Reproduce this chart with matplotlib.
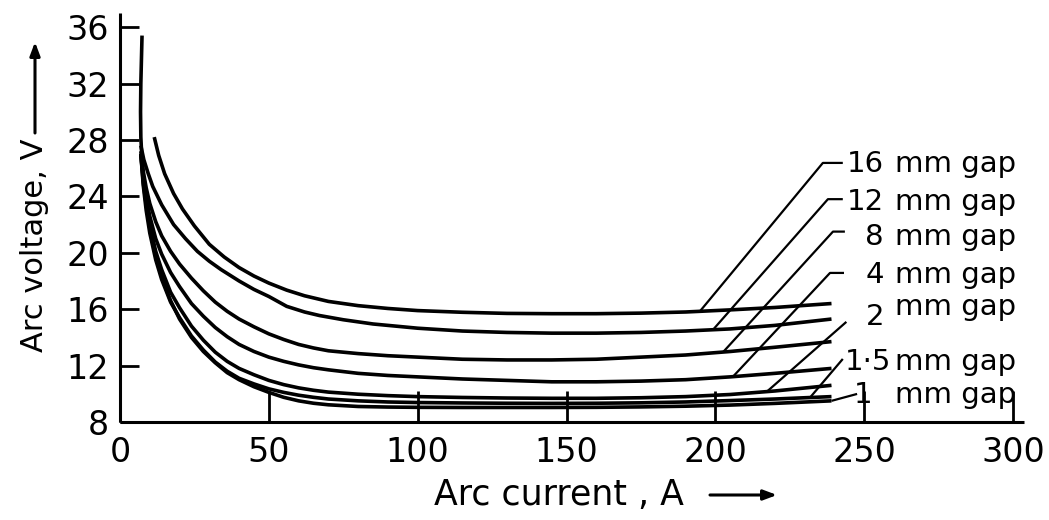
import numpy as np
import matplotlib
matplotlib.use("Agg")
import matplotlib.pyplot as plt

# ---------------- data ----------------
gaps = ["16", "12", "8", "4", "2", "1·5", "1"]

I_16 = [11.5, 13, 15, 18, 21, 25, 30, 35, 40, 45, 50, 56, 62, 70, 80, 90, 100, 115, 130,
        145, 160, 175, 190, 205, 220, 239]
V_16 = [28.2, 26.9, 25.6, 24.2, 23.1, 21.9, 20.6, 19.7, 18.95, 18.35, 17.85, 17.35, 16.95,
        16.55, 16.25, 16.05, 15.9, 15.78, 15.7, 15.68, 15.68, 15.72, 15.8, 15.95, 16.12, 16.4]

I_12 = [7, 8, 9.5, 11, 14, 18, 22, 26, 30, 34, 40, 45, 50, 56, 62, 67, 75, 85, 100, 115,
        130, 145, 160, 175, 190, 205, 220, 239]
V_12 = [27.6, 26.6, 25.6, 24.7, 23.4, 22.0, 21.0, 20.1, 19.4, 18.8, 18.0, 17.4, 16.9, 16.2,
        15.8, 15.55, 15.25, 14.95, 14.65, 14.45, 14.35, 14.3, 14.3, 14.35, 14.45, 14.6, 14.85, 15.3]

I_lo = [7, 7.8, 8.8, 10, 12, 14, 17, 20, 24, 28, 32, 36, 40, 45, 50, 55, 60, 65, 70, 80,
        90, 100, 115, 130, 145, 160, 175, 190, 205, 220, 239]
V_8 = [27.2, 25.8, 24.6, 23.5, 22.2, 21.2, 20.1, 19.2, 18.2, 17.3, 16.5, 15.85, 15.3, 14.75,
       14.25, 13.85, 13.5, 13.25, 13.05, 12.85, 12.7, 12.6, 12.45, 12.4, 12.4, 12.45, 12.6,
       12.75, 13.0, 13.3, 13.7]
V_4 = [27.0, 25.3, 23.9, 22.6, 21.0, 19.9, 18.6, 17.6, 16.4, 15.5, 14.7, 14.05, 13.5, 13.0,
       12.6, 12.3, 12.05, 11.85, 11.7, 11.45, 11.3, 11.2, 11.05, 10.95, 10.85, 10.85, 10.9,
       11.0, 11.2, 11.45, 11.8]
V_2 = [27.0, 25.0, 23.4, 21.9, 20.1, 18.8, 17.2, 16.1, 14.8, 13.8, 12.95, 12.3, 11.8, 11.35,
       10.95, 10.65, 10.42, 10.25, 10.12, 9.97, 9.87, 9.8, 9.74, 9.7, 9.68, 9.68, 9.72, 9.8,
       9.95, 10.2, 10.6]
V_15 = [27.0, 24.8, 23.0, 21.4, 19.5, 18.1, 16.5, 15.4, 14.1, 13.1, 12.25, 11.6, 11.1, 10.7,
        10.35, 10.1, 9.9, 9.75, 9.63, 9.5, 9.42, 9.38, 9.35, 9.33, 9.32, 9.33, 9.36, 9.42,
        9.52, 9.63, 9.8]

I_1 = [7.4, 7.0, 6.9, 7.0, 7.4, 8, 9, 10, 12, 14, 17, 20, 24, 28, 32, 36, 40, 45, 50, 55,
       60, 65, 70, 80, 90, 100, 115, 130, 145, 160, 175, 190, 205, 220, 239]
V_1 = [35.4, 32, 30, 28.2, 26.5, 25.0, 23.3, 22.0, 19.8, 18.3, 16.6, 15.3, 14.0, 13.0, 12.2,
       11.5, 11.0, 10.5, 10.1, 9.75, 9.5, 9.33, 9.22, 9.1, 9.06, 9.04, 9.03, 9.03, 9.03,
       9.04, 9.07, 9.12, 9.2, 9.32, 9.5]

series = [(I_16, V_16), (I_12, V_12), (I_lo, V_8), (I_lo, V_4),
          (I_lo, V_2), (I_lo, V_15), (I_1, V_1)]

x_ticks = [0, 50, 100, 150, 200, 250, 300]
y_ticks = [8, 12, 16, 20, 24, 28, 32, 36]

plt.rcParams["font.family"] = ["DejaVu Sans"]

W, H = 1049, 520
fig = plt.figure(figsize=(W / 100, H / 100), dpi=100)
ax = fig.add_axes([120 / W, 98 / H, 903.5 / W, 409 / H])
ax.set_xlim(0, 303.5)
ax.set_ylim(8, 37.0)

for sp in ["top", "right"]:
    ax.spines[sp].set_visible(False)
for sp in ["left", "bottom"]:
    ax.spines[sp].set_linewidth(2.2)
    ax.spines[sp].set_capstyle("butt")

ax.set_xticks(x_ticks)
ax.set_yticks(y_ticks)
ax.set_xticklabels([str(t) for t in x_ticks])
ax.set_yticklabels([str(t) for t in y_ticks])
ax.tick_params(axis="x", direction="in", length=22, width=2.0, pad=10, labelsize=24)
ax.tick_params(axis="y", direction="in", length=14, width=2.0, pad=8, labelsize=24)

for I, V in series:
    ax.plot(I, V, color="black", lw=2.6, solid_capstyle="butt", solid_joinstyle="round")

# ---------------- leader lines and gap labels ----------------
# (anchor current on curve, further points, number right edge x, number baseline y)
leaders = [
    (194.8, [(236.1, 26.37), (242.8, 26.37)], 256.6, 25.73),
    (199.2, [(237.8, 23.8), (242.8, 23.8)], 256.6, 23.04),
    (202.6, [(239.5, 21.5), (243.5, 21.5)], 256.6, 20.55),
    (205.9, [(238.5, 18.57), (243.2, 18.57)], 256.6, 17.86),
    (217.3, [(244.0, 15.1)], 256.6, 14.88),
    (231.8, [(242.8, 12.47)], 259.0, 11.69),
    (239.0, [(247.6, 9.99)], 252.6, 9.35),
]
mm_base = [25.73, 23.04, 20.55, 17.86, 15.6, 11.69, 9.35]
for (I, V), (a, pts, nx, ny), g, mb in zip(series, leaders, gaps, mm_base):
    ay = np.interp(a, I, V)
    xs = [a] + [p[0] for p in pts]
    ys = [ay] + [p[1] for p in pts]
    ax.plot(xs, ys, color="black", lw=1.6, solid_capstyle="butt", clip_on=False)
    ax.text(nx, ny, g, ha="right", va="baseline", fontsize=21, clip_on=False)
    ax.text(260.3, mb, "mm gap", ha="left", va="baseline", fontsize=21, clip_on=False)

# ---------------- axis labels ----------------
fig.text(559 / W, 25 / H, "Arc current , A", ha="center", va="center", fontsize=25)
fig.text(35 / W, (H - 245) / H, "Arc voltage, V", ha="center", va="center",
         rotation=90, fontsize=22)
ax.annotate("", xy=(777, 25), xytext=(710, 25), xycoords="figure pixels",
            textcoords="figure pixels",
            arrowprops=dict(arrowstyle="-|>,head_length=0.8,head_width=0.3",
                            lw=2.2, color="black", shrinkA=0, shrinkB=0))
ax.annotate("", xy=(35, H - 42), xytext=(35, H - 133), xycoords="figure pixels",
            textcoords="figure pixels",
            arrowprops=dict(arrowstyle="-|>,head_length=0.8,head_width=0.3",
                            lw=2.2, color="black", shrinkA=0, shrinkB=0))

fig.savefig("out.png", dpi=100)
